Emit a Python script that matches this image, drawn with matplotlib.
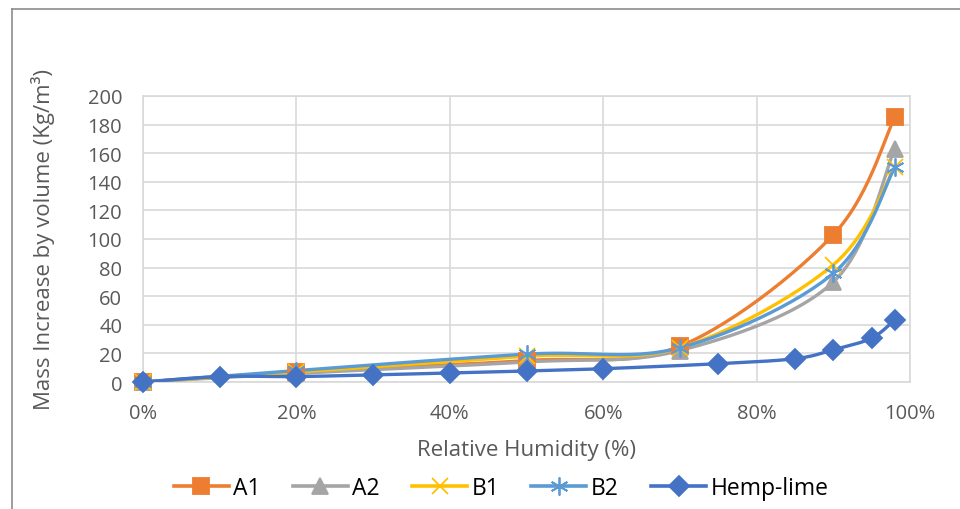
import numpy as np
import matplotlib.pyplot as plt
from matplotlib.lines import Line2D
from matplotlib.ticker import FuncFormatter

plt.rcParams['font.family'] = ['Open Sans', 'DejaVu Sans']

# relative humidity for the lab samples and hemp-lime reference
rh_samples = [0.0, 0.2, 0.5, 0.7, 0.9, 0.98]
a1 = [0, 7, 15, 25, 103, 185]
a2 = [0, 6, 14, 22, 70, 163]
b1 = [0, 7, 18, 24, 82, 150]
b2 = [0, 8, 19.5, 24, 76, 150]

rh_hemp = [0.0, 0.1, 0.2, 0.3, 0.4, 0.5, 0.6, 0.75, 0.85, 0.9, 0.95, 0.98]
hemp = [0, 3.8, 3.8, 5, 6.3, 7.7, 9.3, 12.8, 16.3, 22.5, 30.7, 43.5]

series_names = ['A1', 'A2', 'B1', 'B2', 'Hemp-lime']
colors = ['#ED7D31', '#A5A5A5', '#FFC000', '#5B9BD5', '#4472C4']


def smooth(x, y, n=30):
    # Excel-style smoothed line: cubic bezier between points
    x = np.asarray(x, float)
    y = np.asarray(y, float)
    px = np.concatenate([[x[0]], x, [x[-1]]])
    py = np.concatenate([[y[0]], y, [y[-1]]])
    t = np.linspace(0, 1, n)
    xs, ys = [], []
    for i in range(1, len(px) - 2):
        p0 = np.array([px[i], py[i]])
        p3 = np.array([px[i + 1], py[i + 1]])
        p1 = p0 + (np.array([px[i + 1], py[i + 1]]) - np.array([px[i - 1], py[i - 1]])) / 6
        p2 = p3 - (np.array([px[i + 2], py[i + 2]]) - p0) / 6
        pts = ((1 - t) ** 3)[:, None] * p0 + (3 * (1 - t) ** 2 * t)[:, None] * p1 \
            + (3 * (1 - t) * t ** 2)[:, None] * p2 + (t ** 3)[:, None] * p3
        xs.extend(pts[:, 0])
        ys.extend(pts[:, 1])
    return xs, ys


fig = plt.figure(figsize=(9.6, 5.1), dpi=100)
ax = fig.add_axes([0.149, 0.249, 0.799, 0.561])

data = [(rh_samples, a1), (rh_samples, a2), (rh_samples, b1), (rh_samples, b2), (rh_hemp, hemp)]
markers = ['s', '^', 'x', (6, 2, 0), 'D']
msizes = [11, 11, 12, 13, 10]
handles = []
for (x, y), name, c, m, ms in zip(data, series_names, colors, markers, msizes):
    sx, sy = smooth(x, y)
    ax.plot(sx, sy, color=c, lw=2.4, solid_capstyle='round', zorder=3)
    ax.plot(x, y, ls='none', marker=m, ms=ms, color=c, mec=c, mew=1.3, zorder=4, clip_on=False)
    handles.append(Line2D([], [], color=c, lw=2.6, marker=m, ms=ms, mec=c, mew=1.3))

ax.set_xlim(0, 1)
ax.set_ylim(0, 200)
ax.set_yticks(np.arange(0, 201, 20))
ax.set_xticks(np.arange(0, 1.01, 0.2))
ax.xaxis.set_major_formatter(FuncFormatter(lambda v, p: f'{v * 100:.0f}%'))
ax.tick_params(length=0, labelsize=14.5, colors='#595959')
ax.tick_params(axis='y', pad=15)
ax.tick_params(axis='x', pad=15)
ax.grid(True, color='#D9D9D9', lw=1.2)
ax.set_axisbelow(True)
for s in ax.spines.values():
    s.set_color('#D9D9D9')
    s.set_linewidth(1.2)

ax.set_xlabel('Relative Humidity (%)', fontsize=16, color='#595959')
ax.set_ylabel('Mass Increase by volume (Kg/m³)', fontsize=16, color='#595959')
ax.xaxis.set_label_coords(0.5, -0.2)
ax.yaxis.set_label_coords(-0.115, 0.5)

fig.legend(handles, series_names, loc='center', bbox_to_anchor=(0.522, 0.041), ncol=5,
           frameon=False, fontsize=16.5, handlelength=2.4, columnspacing=1.4, handletextpad=0.2)

# chart area border (top and left visible)
fig.add_artist(Line2D([12 / 960, 12 / 960], [0, 1 - 10 / 510], color='#8C8C8C', lw=1.2))
fig.add_artist(Line2D([12 / 960, 1], [1 - 10 / 510, 1 - 10 / 510], color='#8C8C8C', lw=1.2))

fig.savefig('out.png', dpi=100)
